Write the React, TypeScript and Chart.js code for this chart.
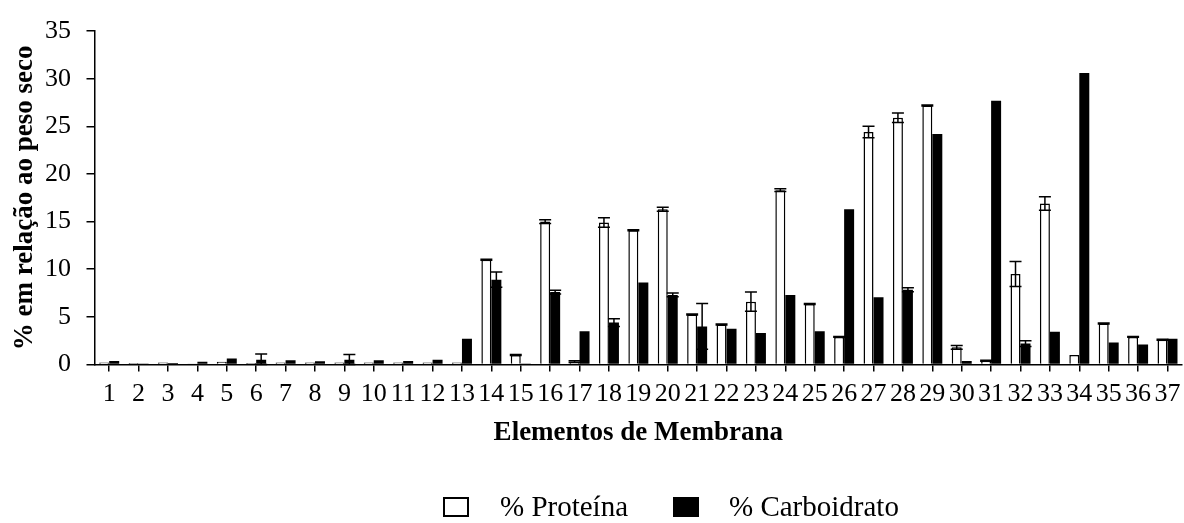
import React, { useEffect, useRef } from "react";
import { Chart, registerables } from "chart.js";

Chart.register(...registerables);

const categories = Array.from({ length: 37 }, (_, i) => String(i + 1));

const proteina = [0.2, 0.15, 0.2, 0.1, 0.3, 0.15, 0.2, 0.2, 0.2, 0.2, 0.2, 0.2, 0.2, 11.0, 1.0, 15.0, 0.3, 14.9, 14.1, 16.3, 5.25, 4.2, 6.6, 18.3, 6.35, 2.9, 24.4, 25.9, 27.2, 1.8, 0.4, 9.5, 16.9, 1.0, 4.3, 2.9, 2.6];
const proteinaErr = [0, 0, 0, 0, 0, 0, 0, 0, 0, 0, 0, 0, 0, 0.05, 0.05, 0.2, 0.1, 0.5, 0.05, 0.2, 0.05, 0.05, 1.0, 0.15, 0.05, 0.05, 0.6, 0.5, 0.05, 0.2, 0.05, 1.3, 0.7, 0, 0.05, 0.05, 0.05];

const carboidrato = [0.37, 0.1, 0.15, 0.3, 0.62, 0.5, 0.45, 0.35, 0.5, 0.45, 0.38, 0.5, 2.7, 8.9, 0.05, 7.6, 3.5, 4.4, 8.6, 7.3, 4.0, 3.75, 3.3, 7.3, 3.5, 16.3, 7.05, 7.85, 24.2, 0.38, 27.7, 2.2, 3.45, 30.6, 2.3, 2.1, 2.7];
const carboidratoErr = [0, 0, 0, 0, 0, 0.6, 0, 0, 0.55, 0, 0, 0, 0, 0.8, 0, 0.2, 0, 0.4, 0, 0.2, 2.4, 0, 0, 0, 0, 0, 0, 0.2, 0, 0, 0, 0.3, 0, 0, 0, 0, 0];

const yTicks = [0, 5, 10, 15, 20, 25, 30, 35];

const FONT = "'Liberation Serif', 'Times New Roman', serif";

const errorBarPlugin = {
  id: "errorBars",
  afterDatasetsDraw(chart: any) {
    const ctx = chart.ctx;
    const yScale = chart.scales.y;
    const errs = [proteinaErr, carboidratoErr];
    const vals = [proteina, carboidrato];
    ctx.save();
    ctx.strokeStyle = "#000";
    ctx.lineWidth = 1.5;
    for (let d = 0; d < 2; d++) {
      const meta = chart.getDatasetMeta(d);
      meta.data.forEach((el: any, i: number) => {
        const e = errs[d][i];
        if (!e) return;
        const v = vals[d][i];
        const yt = yScale.getPixelForValue(v + e);
        const yb = yScale.getPixelForValue(Math.max(0, v - e));
        const half = el.width / 2 + 1;
        ctx.beginPath();
        ctx.moveTo(el.x, yb);
        ctx.lineTo(el.x, yt);
        ctx.moveTo(el.x - half, yt);
        ctx.lineTo(el.x + half, yt);
        ctx.moveTo(el.x - half, yb);
        ctx.lineTo(el.x + half, yb);
        ctx.stroke();
      });
    }
    ctx.restore();
  },
};

export default function App() {
  const ref = useRef<HTMLCanvasElement | null>(null);
  useEffect(() => {
    if (!ref.current) return;
    const chart = new Chart(ref.current, {
      type: "bar",
      data: {
        labels: categories,
        datasets: [
          {
            label: "% Proteína",
            data: proteina,
            backgroundColor: "#ffffff",
            borderColor: "#000000",
            borderWidth: 1.5,
            categoryPercentage: 0.68,
            barPercentage: 1.0,
          },
          {
            label: "% Carboidrato",
            data: carboidrato,
            backgroundColor: "#000000",
            borderColor: "#000000",
            borderWidth: 0,
            categoryPercentage: 0.68,
            barPercentage: 1.0,
          },
        ],
      },
      options: {
        animation: false,
        responsive: true,
        maintainAspectRatio: false,
        layout: { padding: { left: 0, right: 0.5, top: 28, bottom: 0 } },
        plugins: {
          legend: { display: false },
          tooltip: { enabled: false },
        },
        scales: {
          x: {
            offset: true,
            afterFit: (scale: any) => {
              scale.height = 158.5;
            },
            grid: {
              display: true,
              drawOnChartArea: false,
              offset: false,
              tickLength: 7,
              color: "#000",
              lineWidth: 1.5,
            },
            border: { display: true, color: "#000", width: 1.5 },
            ticks: {
              color: "#000",
              font: { family: FONT, size: 26, lineHeight: 1.2 },
              padding: 7.5,
              maxRotation: 0,
              minRotation: 0,
              autoSkip: false,
            },
            title: {
              display: true,
              text: "Elementos de Membrana",
              color: "#000",
              font: { family: FONT, size: 27, weight: "bold" },
              padding: { top: 0, bottom: 73.8 },
            },
          },
          y: {
            min: 0,
            max: 35,
            afterFit: (scale: any) => {
              scale.width = 94.5;
            },
            afterBuildTicks: (axis: any) => {
              axis.ticks = yTicks.map((v) => ({ value: v }));
            },
            grid: {
              display: true,
              drawOnChartArea: false,
              tickLength: 8,
              color: "#000",
              lineWidth: 1.5,
            },
            border: { display: true, color: "#000", width: 1.5 },
            ticks: {
              color: "#000",
              font: { family: FONT, size: 26 },
              padding: 15.5,
            },
            title: {
              display: true,
              text: "% em relação ao peso seco",
              color: "#000",
              font: { family: FONT, size: 27, weight: "bold" },
              padding: { top: 9, bottom: 0 },
            },
          },
        },
      },
      plugins: [errorBarPlugin],
    });
    return () => chart.destroy();
  }, []);

  const legendText: React.CSSProperties = {
    position: "absolute",
    fontFamily: FONT,
    fontSize: 29,
    color: "#000",
    lineHeight: "29px",
    whiteSpace: "nowrap",
  };

  return (
    <div style={{ position: "fixed", left: 0, top: 0, width: 1188, height: 523, background: "#fff", overflow: "hidden" }}>
      <canvas ref={ref} />
      <div style={{ position: "absolute", left: 443, top: 497, width: 22, height: 16, border: "2px solid #000", background: "#fff" }} />
      <div style={{ ...legendText, left: 500, top: 492 }}>% Proteína</div>
      <div style={{ position: "absolute", left: 673, top: 497, width: 26, height: 20, background: "#000" }} />
      <div style={{ ...legendText, left: 729, top: 492 }}>% Carboidrato</div>
    </div>
  );
}
